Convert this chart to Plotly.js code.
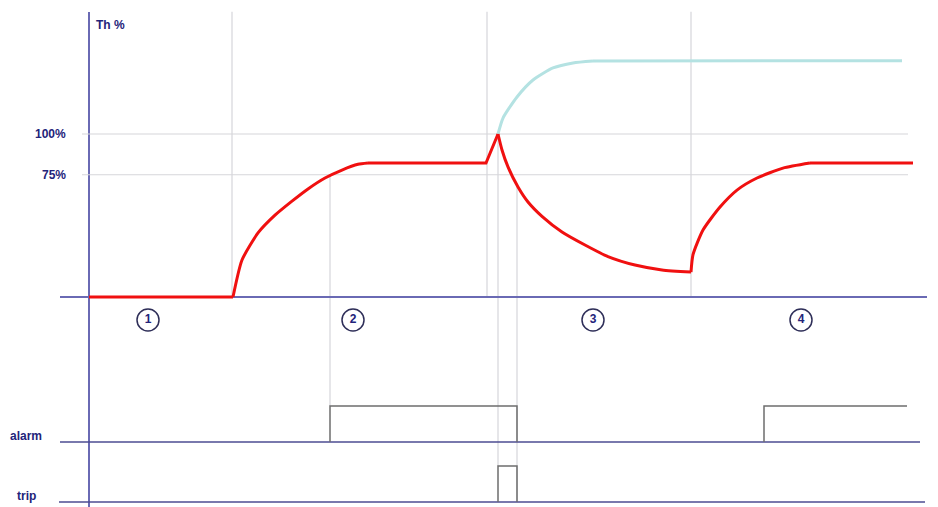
<!DOCTYPE html>
<html>
<head>
<meta charset="utf-8">
<script src="https://cdn.plot.ly/plotly-3.0.1.min.js"></script>
<style>html,body{margin:0;padding:0;background:#fff;}#chart{width:938px;height:507px;}</style>
</head>
<body>
<div id="chart"></div>
<script>
// ---- data (time in arbitrary units, thermal image in %) ----
const tRed  = [0, 14.4, 15.3, 16.9, 18.6, 20.3, 21.9, 23.6, 25.3, 26.9, 27.9, 39.7, 40.9, 41.3, 41.9, 42.9, 43.9, 45.3, 47.3, 49.6, 51.9, 54.6, 57.3, 60.2, 60.4, 61.4, 63.1, 64.8, 66.8, 69.4, 72.1, 82.4];
const thRed = [0, 0, 22.7, 39.3, 50.2, 58.8, 66.3, 73.0, 77.9, 81.4, 82.2, 82.2, 100, 90.2, 79.8, 67.5, 58.3, 49.5, 39.9, 31.9, 24.8, 19.6, 16.6, 15.3, 26.0, 41.1, 55.2, 65.6, 73.0, 79.1, 82.2, 82.2];
const tCyan  = [40.9, 41.4, 42.8, 44.4, 46.4, 48.4, 50.4, 81.3];
const thCyan = [100, 109.8, 122.7, 133.1, 140.5, 143.6, 144.8, 145];
const tAlarm = [24.1, 24.1, 42.8, 42.8, null, 67.5, 67.5, 81.8];
const alarm  = [0, 1, 1, 0, null, 0, 1, 1];
const tTrip  = [40.9, 40.9, 42.8, 42.8];
const trip   = [0, 1, 1, 0];
const phaseLabels = ['1', '2', '3', '4'];
const tPhase  = [5.9, 26.4, 50.4, 71.2];
const thPhase = [-14.1, -14.1, -14.1, -14.1];
const yTickVals = [100, 75];
const yTickText = ['100%', '75%'];
// event times for guide lines
const tRiseStart = 14.3, tAlarmOn = 24.1, tOverload = 39.8, tTrip0 = 40.9, tTripEnd = 42.8, tRecover = 60.2;
const thTop = 175, thAtTripEnd = 68;
// pieces of the curves: [first index, last index, smooth?]
const redPieces  = [[0, 1, false], [1, 10, true], [10, 12, false], [12, 23, true], [23, 30, true], [30, 31, false]];
const cyanPieces = [[0, 6, true], [6, 7, false]];

// ---- scales ----
const xRange = [-8.9, 84.9];
const yRange = [-128.8, 182.2];
const y2Range = [-1.806, 12.278];
const y3Range = [-0.139, 13.944];
function fy(r, v) { return (v - r[0]) / (r[1] - r[0]); }

const navy = '#23237a';
const axisCol = '#6a6ab4';
const baseCol = '#4d4d92';
const gridCol = '#d6d6da';
const pulseCol = '#6e6e6e';

const shapes = [];
function vline(x, y0, y1, col, w) {
  shapes.push({type: 'line', xref: 'x', yref: 'paper', x0: x, x1: x, y0: y0, y1: y1, line: {color: col, width: w}, layer: 'below'});
}
function hline(x0, x1, yref, y, col, w) {
  shapes.push({type: 'line', xref: 'x', yref: yref, x0: x0, x1: x1, y0: y, y1: y, line: {color: col, width: w}, layer: 'below'});
}
yTickVals.forEach(v => hline(-0.7, 81.9, 'y', v, gridCol, 1.2));
vline(tRiseStart, fy(yRange, 0), fy(yRange, thTop), gridCol, 1.2);
vline(tAlarmOn, fy(y2Range, 1), fy(yRange, 75), gridCol, 1.2);
vline(tOverload, fy(yRange, 0), fy(yRange, thTop), gridCol, 1.2);
vline(tTrip0, fy(y3Range, 1), fy(yRange, 100), gridCol, 1.2);
vline(tTripEnd, fy(y3Range, 0), fy(yRange, thAtTripEnd), gridCol, 1.2);
vline(tRecover, fy(yRange, 0), fy(yRange, thTop), gridCol, 1.2);
hline(-2.9, 83.8, 'y', 0, axisCol, 2);
hline(-2.9, 83.1, 'y2', 0, baseCol, 1.3);
hline(-3.0, 83.6, 'y3', 0, baseCol, 1.3);
vline(0, -0.05, fy(yRange, 174.8), axisCol, 2);

const annotations = [];
const lblFont = {family: 'Liberation Sans, Arial, sans-serif', size: 12, color: navy};
annotations.push({xref: 'x', yref: 'y', x: 0.5, y: 166.9, text: '<b>Th %</b>', showarrow: false, xanchor: 'left', yanchor: 'middle', font: lblFont});
yTickVals.forEach((v, i) => annotations.push({xref: 'x', yref: 'y', x: -2.1, y: v, text: '<b>' + yTickText[i] + '</b>', showarrow: false, xanchor: 'right', yanchor: 'middle', font: lblFont}));
annotations.push({xref: 'x', yref: 'y2', x: -6.3, y: 0.17, text: '<b>alarm</b>', showarrow: false, xanchor: 'center', yanchor: 'middle', font: lblFont});
annotations.push({xref: 'x', yref: 'y3', x: -6.3, y: 0.17, text: '<b>trip</b>', showarrow: false, xanchor: 'center', yanchor: 'middle', font: lblFont});

function pieceTraces(xs, ys, pieces, color, width) {
  return pieces.map(p => ({
    x: xs.slice(p[0], p[1] + 1), y: ys.slice(p[0], p[1] + 1), type: 'scatter', mode: 'lines',
    line: {color: color, width: width, shape: p[2] ? 'spline' : 'linear', smoothing: 0.6}, yaxis: 'y'
  }));
}

const traces = [].concat(
  pieceTraces(tCyan, thCyan, cyanPieces, '#b4e2e2', 3),
  pieceTraces(tRed, thRed, redPieces, '#f01010', 3),
  [
    {x: tAlarm, y: alarm, type: 'scatter', mode: 'lines', line: {color: pulseCol, width: 1.5}, yaxis: 'y2', connectgaps: false},
    {x: tTrip, y: trip, type: 'scatter', mode: 'lines', line: {color: pulseCol, width: 1.5}, yaxis: 'y3'},
    {x: tPhase, y: thPhase, type: 'scatter', mode: 'markers+text', text: phaseLabels.map(s => '<b>' + s + '</b>'), textposition: 'middle center',
     textfont: {family: 'Liberation Sans, Arial, sans-serif', size: 12, color: navy},
     marker: {symbol: 'circle', size: 22, color: 'rgba(255,255,255,0)', line: {color: '#2e2e58', width: 1.5}}, yaxis: 'y'}
  ]
);

const layout = {
  width: 938, height: 507,
  margin: {l: 0, r: 0, t: 0, b: 0},
  paper_bgcolor: '#ffffff', plot_bgcolor: '#ffffff',
  showlegend: false,
  xaxis: {range: xRange, visible: false, fixedrange: true},
  yaxis: {range: yRange, visible: false, fixedrange: true},
  yaxis2: {range: y2Range, visible: false, overlaying: 'y', fixedrange: true},
  yaxis3: {range: y3Range, visible: false, overlaying: 'y', fixedrange: true},
  shapes: shapes,
  annotations: annotations
};
Plotly.newPlot('chart', traces, layout, {staticPlot: true, displayModeBar: false});
</script>
</body>
</html>
